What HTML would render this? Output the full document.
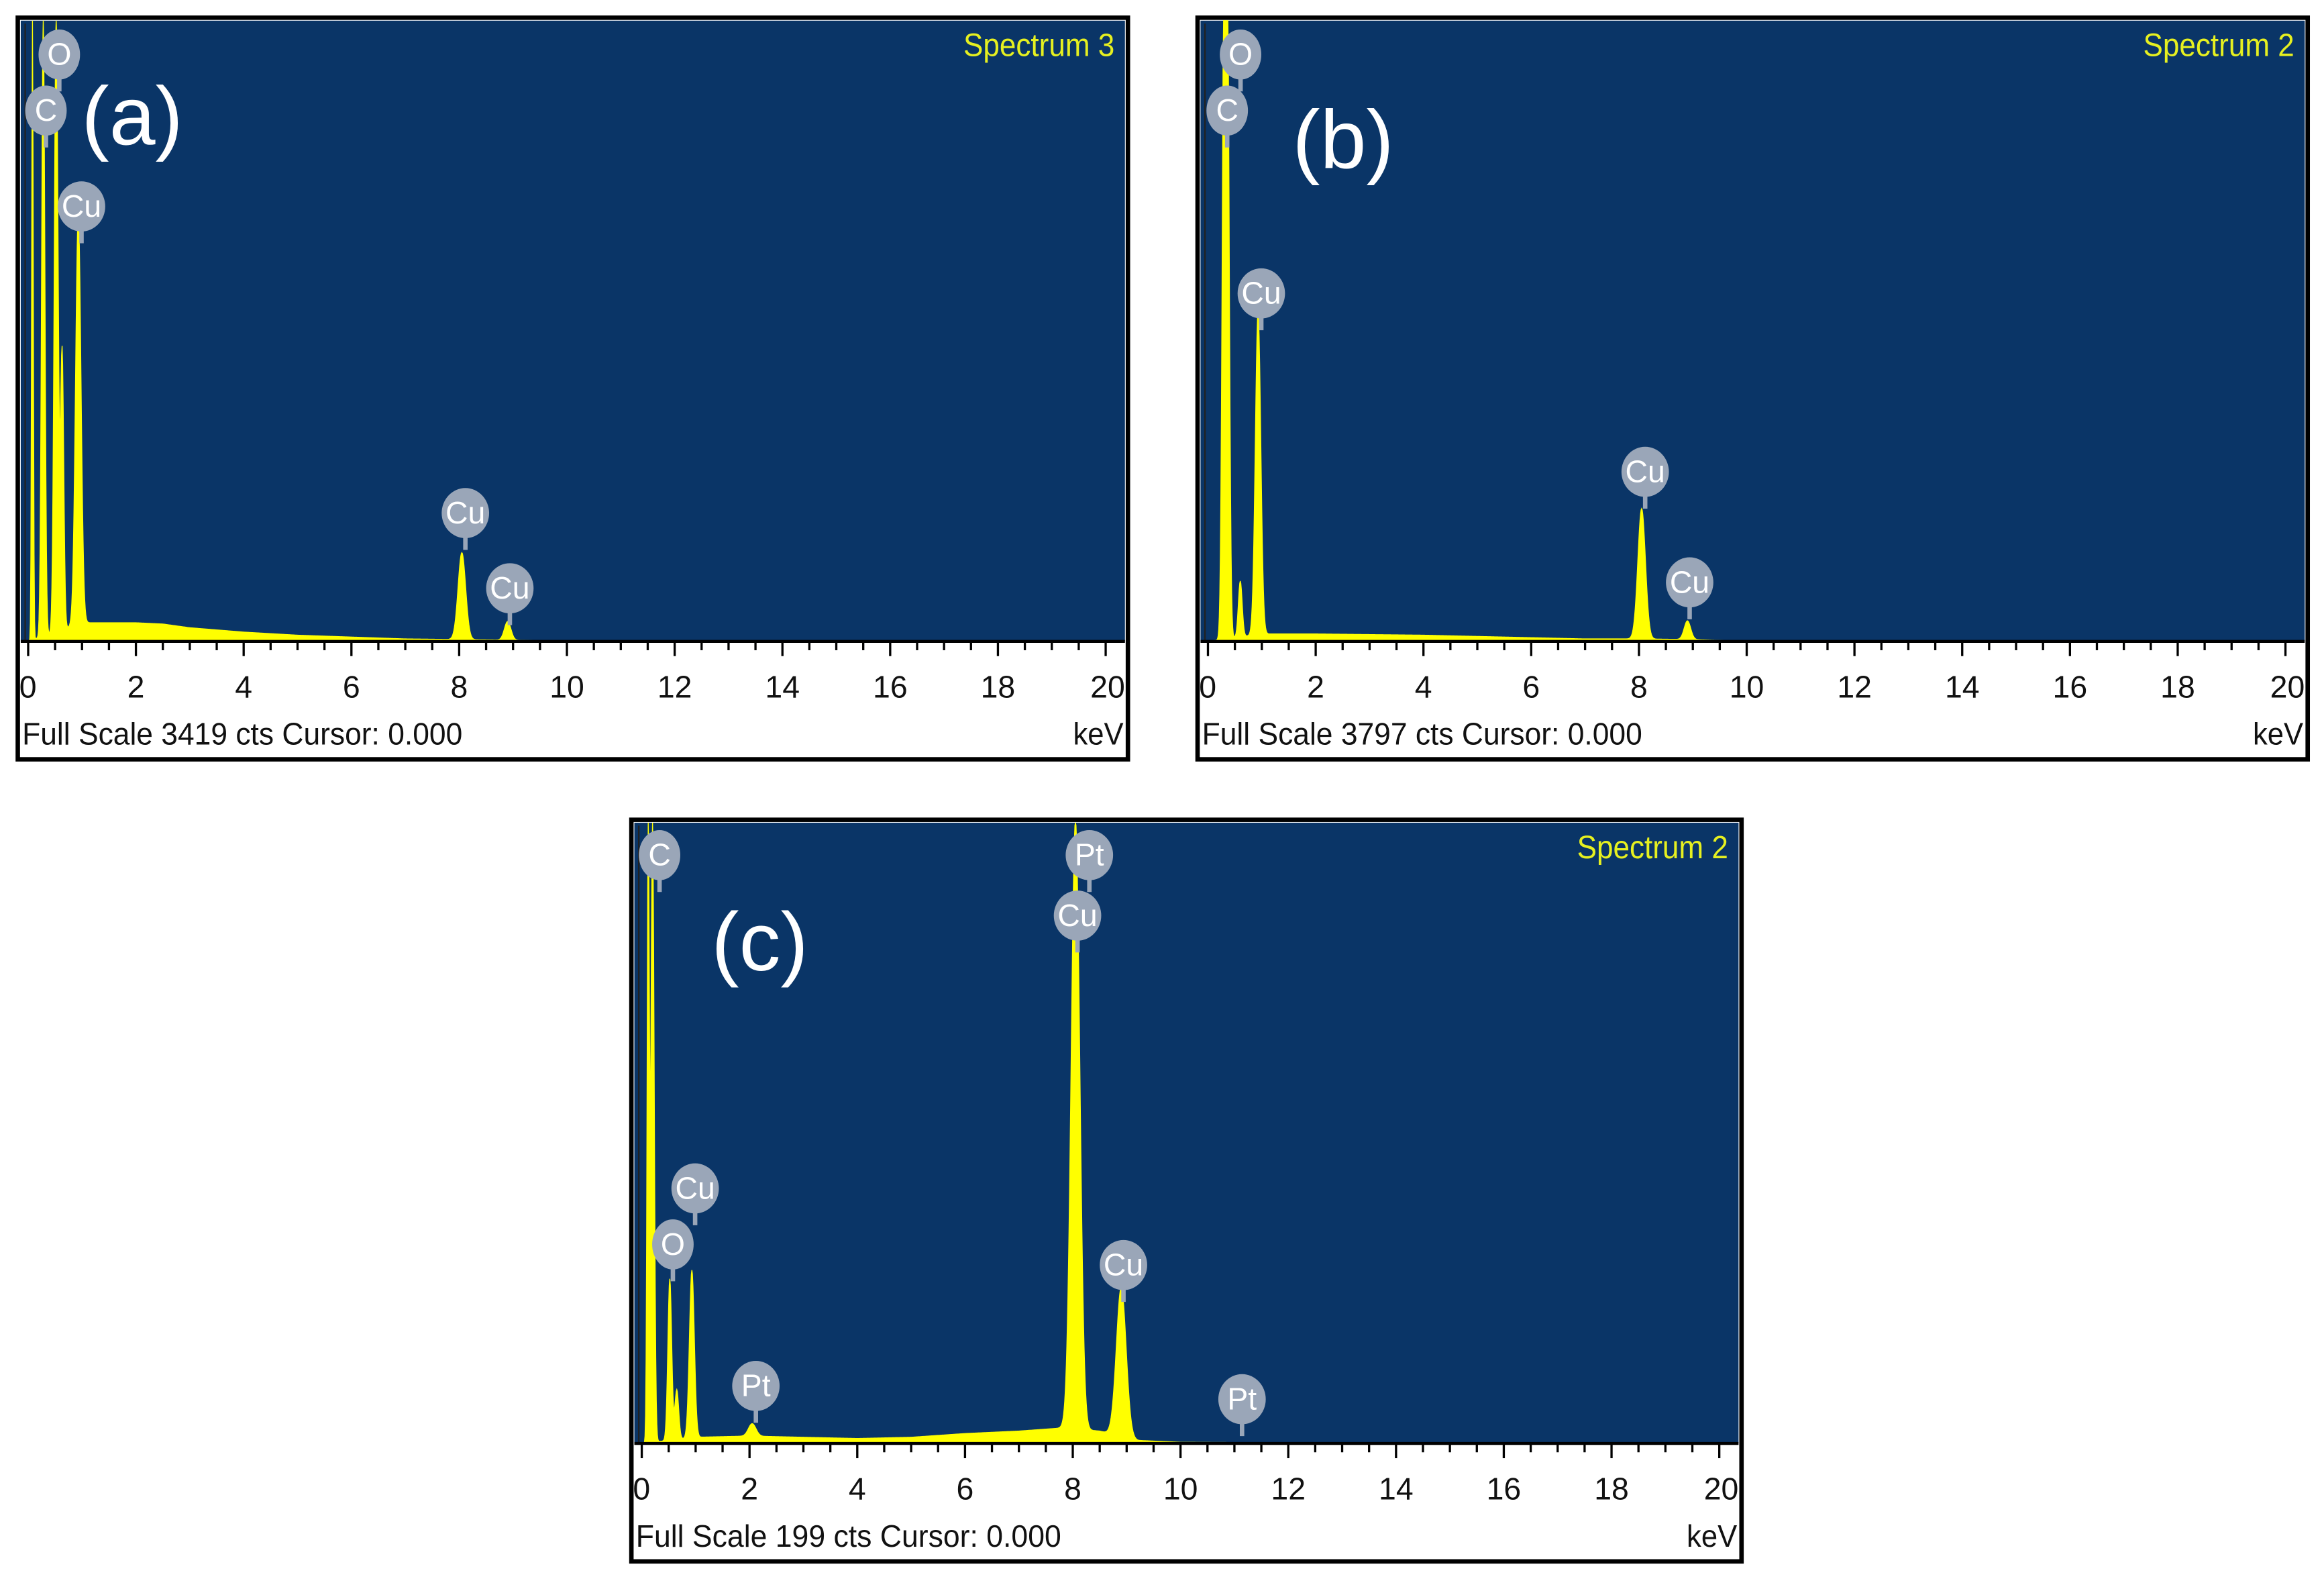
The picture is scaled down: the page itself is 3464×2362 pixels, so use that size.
<!DOCTYPE html>
<html><head><meta charset="utf-8">
<style>
html,body{margin:0;padding:0;background:#fff;}
svg{display:block;}
text{font-family:"Liberation Sans",sans-serif;}
</style></head>
<body>
<svg id="fig" width="3464" height="2362" viewBox="0 0 1568 1075" preserveAspectRatio="none" xmlns="http://www.w3.org/2000/svg"></svg>
<script>
// ---- data: panel (a) Spectrum 3
const peakEnergyA = [0.08, 0.28, 0.52, 0.63, 0.93, 8.05, 8.9];
const peakHeightA = [1.0, 1.0, 1.0, 0.45, 0.66, 0.14, 0.03];
const peakWidthA  = [0.015, 0.03, 0.035, 0.03, 0.05, 0.07, 0.06];
const bgEnergyA = [0, 1, 1.5, 2, 2.5, 3, 4, 5, 6, 7, 8, 9, 10, 20];
const bgValueA  = [0, 0.03, 0.03, 0.03, 0.028, 0.022, 0.015, 0.01, 0.007, 0.004, 0.003, 0.002, 0, 0];
// ---- data: panel (b) Spectrum 2
const peakEnergyB = [0.3, 0.36, 0.6, 0.93, 8.05, 8.9];
const peakHeightB = [1.0, 1.0, 0.09, 0.52, 0.21, 0.03];
const peakWidthB  = [0.035, 0.035, 0.035, 0.05, 0.07, 0.06];
const bgEnergyB = [0, 1, 2, 3, 4, 5, 6, 7, 8, 9, 10, 20];
const bgValueB  = [0, 0.012, 0.012, 0.011, 0.01, 0.008, 0.006, 0.004, 0.004, 0.003, 0, 0];
// ---- data: panel (c) Spectrum 2
const peakEnergyC = [0.12, 0.2, 0.52, 0.65, 0.93, 2.05, 8.05, 8.9];
const peakHeightC = [1.0, 1.0, 0.26, 0.08, 0.27, 0.02, 0.98, 0.24];
const peakWidthC  = [0.02, 0.03, 0.035, 0.035, 0.045, 0.07, 0.08, 0.09];
const bgEnergyC = [0, 1, 2, 3, 4, 5, 6, 7, 7.8, 8.5, 9.2, 10, 12, 20];
const bgValueC  = [0, 0.01, 0.012, 0.01, 0.008, 0.01, 0.016, 0.02, 0.025, 0.02, 0.005, 0.002, 0.001, 0];
const tickLabels = ["0","2","4","6","8","10","12","14","16","18","20"];

const NS = "http://www.w3.org/2000/svg";
const svg = document.getElementById('fig');
function mk(tag, attrs, parent){const e=document.createElementNS(NS,tag);for(const k in attrs)e.setAttribute(k,attrs[k]);(parent||svg).appendChild(e);return e;}

function interp(xs, ys, x){for(let i=0;i<xs.length-1;i++){if(x>=xs[i]&&x<=xs[i+1]){return ys[i]+(ys[i+1]-ys[i])*(x-xs[i])/(xs[i+1]-xs[i]);}}return 0;}

function panel(cfg){
  const {bx,by,name,letter,lx,ly,pe,ph,pw,be,bv,foot,labels,spec} = cfg;
  const g = mk('g',{});
  
  
  const W=749, H=503;
  mk('rect',{x:bx,y:by,width:W,height:H,fill:'#fff',stroke:'#000','stroke-width':3},g);
  const plotTop=by+2, base=by+423, plotH=421;
  const bg=mk('rect',{x:bx+2,y:plotTop,width:W-4,height:base-plotTop,fill:'#0a3567'},g);
  
  
  const x0=bx+7, x1=bx+734;
  const xs=e=>x0+(e/20)*(x1-x0);
  const ys=v=>base-Math.min(v,1.0)*plotH;
  let pts=[xs(0)+','+base];
  for(let e=0;e<=20.0001;e+=0.01){
    let v=interp(be,bv,e);
    for(let i=0;i<pe.length;i++){const d=(e-pe[i])/pw[i];v+=ph[i]*Math.exp(-0.5*d*d);}
    pts.push(xs(e).toFixed(2)+','+ys(v).toFixed(2));
  }
  pts.push(xs(20)+','+base);
  const sp=mk('polygon',{points:pts.join(' '),fill:'#ffff00',stroke:'#ffff00','stroke-width':0.6},g);
  
  
  mk('line',{x1:x0-2,y1:plotTop+2,x2:x0-2,y2:base,stroke:'#222','stroke-width':1},g);
  mk('line',{x1:bx+2,y1:base,x2:bx+W-2,y2:base,stroke:'#000','stroke-width':2},g);
  for(let k=0;k<=40;k++){
    const e=k*0.5, x=xs(e), major=(k%4===0);
    mk('line',{x1:x,y1:base,x2:x,y2:base+(major?10:6),stroke:'#000','stroke-width':1.5},g);
  }
  tickLabels.forEach((t,i)=>{
    const tl=mk('text',{x:xs(i*2),y:base+38,'font-size':21,'text-anchor':i===0?'start':(i===10?'end':'middle'),fill:'#111'},g);
    tl.textContent=t;
    
    
    if(i===0) tl.setAttribute('x',x0-6);
    if(i===10) tl.setAttribute('x',x1+13);
  });
  const ft=mk('text',{x:bx+3,y:by+493,'font-size':21,fill:'#111',textLength:foot.len,lengthAdjust:'spacingAndGlyphs'},g);
  ft.textContent=foot.text;
  
  
  const kv=mk('text',{x:bx+W-3,y:by+493,'font-size':21,fill:'#111','text-anchor':'end',textLength:34,lengthAdjust:'spacingAndGlyphs'},g);
  kv.textContent='keV';
  
  
  const st=mk('text',{x:bx+W-9,y:by+26,'font-size':22,fill:'#e6f020','text-anchor':'end',textLength:102,lengthAdjust:'spacingAndGlyphs'},g);
  st.textContent=spec;
  
  
  labels.forEach(l=>{
    const lg=mk('g',{},g);
    
    
    mk('line',{x1:l.x,y1:l.y,x2:l.x,y2:l.y+25,stroke:'#9aa6b8','stroke-width':3},lg);
    mk('ellipse',{cx:l.x,cy:l.y,rx:l.t.length>1?16:14,ry:17,fill:'#9aa6b8'},lg);
    const tt=mk('text',{x:l.x,y:l.y+7,'font-size':21,fill:'#fff','text-anchor':'middle'},lg);
    tt.textContent=l.t;
  });
  const lt=mk('text',{x:lx,y:ly,'font-size':56,fill:'#fff'},g);
  lt.textContent=letter;
  
  
}

panel({bx:12,by:12,name:'panel-a',letter:'(a)',lx:55,ly:98,pe:peakEnergyA,ph:peakHeightA,pw:peakWidthA,be:bgEnergyA,bv:bgValueA,
  foot:{text:'Full Scale 3419 cts Cursor: 0.000',len:297},spec:'Spectrum 3',
  labels:[{t:'O',x:40,y:37},{t:'C',x:31,y:75},{t:'Cu',x:55,y:140},{t:'Cu',x:314,y:348},{t:'Cu',x:344,y:399}]});
panel({bx:808,by:12,name:'panel-b',letter:'(b)',lx:872,ly:114,pe:peakEnergyB,ph:peakHeightB,pw:peakWidthB,be:bgEnergyB,bv:bgValueB,
  foot:{text:'Full Scale 3797 cts Cursor: 0.000',len:297},spec:'Spectrum 2',
  labels:[{t:'O',x:837,y:37},{t:'C',x:828,y:75},{t:'Cu',x:851,y:199},{t:'Cu',x:1110,y:320},{t:'Cu',x:1140,y:395}]});
panel({bx:426,by:556,name:'panel-c',letter:'(c)',lx:480,ly:658,pe:peakEnergyC,ph:peakHeightC,pw:peakWidthC,be:bgEnergyC,bv:bgValueC,
  foot:{text:'Full Scale 199 cts Cursor: 0.000',len:287},spec:'Spectrum 2',
  labels:[{t:'C',x:445,y:580},{t:'Pt',x:735,y:580},{t:'Cu',x:727,y:621},{t:'Cu',x:469,y:806},{t:'O',x:454,y:844},{t:'Pt',x:510,y:940},{t:'Cu',x:758,y:858},{t:'Pt',x:838,y:949}]});
</script>
</body></html>
